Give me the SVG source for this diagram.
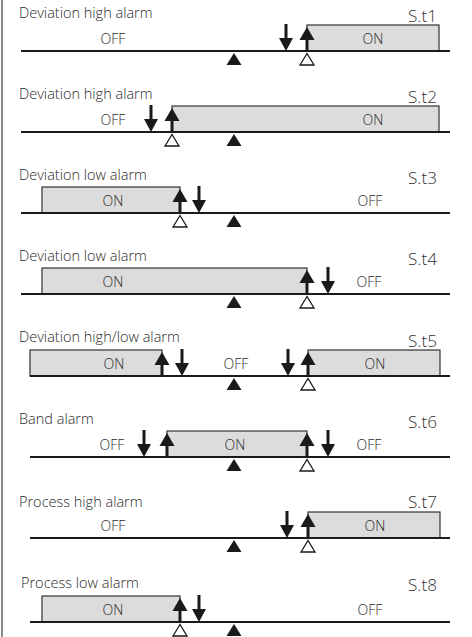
<svg xmlns="http://www.w3.org/2000/svg" width="472" height="637" viewBox="0 0 472 637">
<style>
.bg{fill:#ffffff}
.border{stroke:#8a8a8a;stroke-width:2}
.axis{stroke:#1a1a1a;stroke-width:2}
.box{fill:#dcdcdc;stroke:#333333;stroke-width:1.2}
.title{font-family:"Open Sans","Noto Sans",sans-serif;font-size:14.5px;font-weight:300;fill:#2a2a2a}
.lbl{font-family:"Open Sans","Noto Sans",sans-serif;font-size:14px;font-weight:300;fill:#2a2a2a;text-anchor:middle}
.code{font-family:"Open Sans","Noto Sans",sans-serif;font-size:17px;font-weight:300;fill:#333333}
</style>
<defs>
<g id="up"><rect x="-1.5" y="-12" width="3" height="12" fill="#1a1a1a"/><polygon points="-7.5,-11 7.5,-11 0,-24" fill="#1a1a1a"/></g>
<g id="down"><rect x="-1.5" y="-27" width="3" height="15" fill="#1a1a1a"/><polygon points="-7,-13 7,-13 0,0" fill="#1a1a1a"/></g>
<polygon id="hollow" points="0,2.5 -7,14 7,14" fill="#ffffff" stroke="#1a1a1a" stroke-width="1.3"/>
<polygon id="sp" points="0,2 -7.5,14 7.5,14" fill="#1a1a1a"/>
</defs>
<rect class="bg" x="0" y="0" width="472" height="637"/>
<line class="border" x1="2" y1="0" x2="2" y2="637"/>

<g id="panel1">
<text class="title" x="19" y="18">Deviation high alarm</text>
<text class="code" x="408" y="22" textLength="29" lengthAdjust="spacingAndGlyphs">S.t1</text>
<rect class="box" x="307" y="25" width="132" height="26"/>
<line class="axis" x1="21" y1="51" x2="450" y2="51"/>
<text class="lbl" x="113" y="44">OFF</text>
<text class="lbl" x="373" y="44">ON</text>
<use href="#down" transform="translate(286,51)"/>
<use href="#up" transform="translate(307,51)"/>
<use href="#hollow" transform="translate(307,51)"/>
<use href="#sp" transform="translate(234,51)"/>
</g>

<g id="panel2">
<text class="title" x="19" y="99">Deviation high alarm</text>
<text class="code" x="408" y="103" textLength="29" lengthAdjust="spacingAndGlyphs">S.t2</text>
<rect class="box" x="172" y="106" width="267" height="26"/>
<line class="axis" x1="21" y1="132" x2="450" y2="132"/>
<text class="lbl" x="113" y="125">OFF</text>
<text class="lbl" x="373" y="125">ON</text>
<use href="#down" transform="translate(151,132)"/>
<use href="#up" transform="translate(172,132)"/>
<use href="#hollow" transform="translate(172,132)"/>
<use href="#sp" transform="translate(234,132)"/>
</g>

<g id="panel3">
<text class="title" x="19" y="180">Deviation low alarm</text>
<text class="code" x="408" y="184" textLength="29" lengthAdjust="spacingAndGlyphs">S.t3</text>
<rect class="box" x="42" y="187" width="138" height="26"/>
<line class="axis" x1="21" y1="213" x2="450" y2="213"/>
<text class="lbl" x="113" y="206">ON</text>
<text class="lbl" x="370" y="206">OFF</text>
<use href="#up" transform="translate(180,213)"/>
<use href="#hollow" transform="translate(180,213)"/>
<use href="#down" transform="translate(199,213)"/>
<use href="#sp" transform="translate(234,213)"/>
</g>

<g id="panel4">
<text class="title" x="19" y="261">Deviation low alarm</text>
<text class="code" x="408" y="265" textLength="29" lengthAdjust="spacingAndGlyphs">S.t4</text>
<rect class="box" x="42" y="268" width="265" height="26"/>
<line class="axis" x1="21" y1="294" x2="450" y2="294"/>
<text class="lbl" x="113" y="287">ON</text>
<text class="lbl" x="369" y="287">OFF</text>
<use href="#up" transform="translate(307,294)"/>
<use href="#hollow" transform="translate(307,294)"/>
<use href="#down" transform="translate(328,294)"/>
<use href="#sp" transform="translate(234,294)"/>
</g>

<g id="panel5">
<text class="title" x="19" y="342">Deviation high/low alarm</text>
<text class="code" x="408" y="347" textLength="29" lengthAdjust="spacingAndGlyphs">S.t5</text>
<rect class="box" x="30" y="350" width="132" height="26"/>
<rect class="box" x="308" y="350" width="132" height="26"/>
<line class="axis" x1="30" y1="376" x2="450" y2="376"/>
<text class="lbl" x="114" y="369">ON</text>
<text class="lbl" x="236" y="369">OFF</text>
<text class="lbl" x="375" y="369">ON</text>
<use href="#up" transform="translate(162,376)"/>
<use href="#down" transform="translate(182,376)"/>
<use href="#down" transform="translate(288,376)"/>
<use href="#up" transform="translate(308,376)"/>
<use href="#hollow" transform="translate(308,376)"/>
<use href="#sp" transform="translate(234,376)"/>
</g>

<g id="panel6">
<text class="title" x="19" y="424">Band alarm</text>
<text class="code" x="408" y="428" textLength="29" lengthAdjust="spacingAndGlyphs">S.t6</text>
<rect class="box" x="167" y="431" width="140" height="26"/>
<line class="axis" x1="30" y1="457" x2="450" y2="457"/>
<text class="lbl" x="112" y="450">OFF</text>
<text class="lbl" x="235" y="450">ON</text>
<text class="lbl" x="369" y="450">OFF</text>
<use href="#down" transform="translate(144,457)"/>
<use href="#up" transform="translate(167,457)"/>
<use href="#up" transform="translate(307,457)"/>
<use href="#hollow" transform="translate(307,457)"/>
<use href="#down" transform="translate(328,457)"/>
<use href="#sp" transform="translate(234,457)"/>
</g>

<g id="panel7">
<text class="title" x="19" y="507">Process high alarm</text>
<text class="code" x="408" y="508" textLength="29" lengthAdjust="spacingAndGlyphs">S.t7</text>
<rect class="box" x="308" y="512" width="132" height="26"/>
<line class="axis" x1="30" y1="538" x2="450" y2="538"/>
<text class="lbl" x="113" y="531">OFF</text>
<text class="lbl" x="375" y="531">ON</text>
<use href="#down" transform="translate(287,538)"/>
<use href="#up" transform="translate(308,538)"/>
<use href="#hollow" transform="translate(308,538)"/>
<use href="#sp" transform="translate(234,538)"/>
</g>

<g id="panel8">
<text class="title" x="21" y="588">Process low alarm</text>
<text class="code" x="408" y="591" textLength="29" lengthAdjust="spacingAndGlyphs">S.t8</text>
<rect class="box" x="42" y="596" width="138" height="26"/>
<line class="axis" x1="30" y1="622" x2="450" y2="622"/>
<text class="lbl" x="113" y="615">ON</text>
<text class="lbl" x="370" y="615">OFF</text>
<use href="#up" transform="translate(180,622)"/>
<use href="#hollow" transform="translate(180,622)"/>
<use href="#down" transform="translate(199,622)"/>
<use href="#sp" transform="translate(234,622)"/>
</g>

<g id="connectors"></g>
</svg>
